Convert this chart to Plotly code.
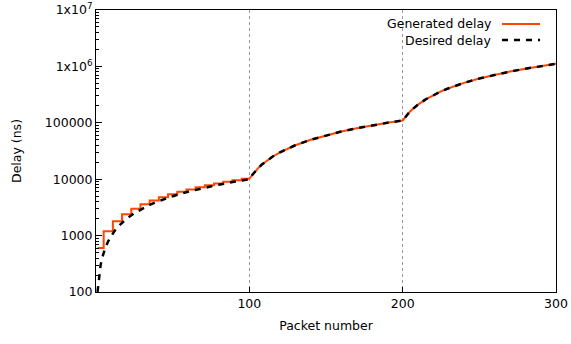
import plotly.graph_objects as go

# ---- data ----
desired_x = [1, 2, 3, 4, 5, 6, 8, 10, 12, 15, 20, 25, 30, 35, 40, 50, 60, 70, 80, 90, 100,
             102, 104, 106, 108, 110, 115, 120, 125, 130, 140, 150, 160, 170, 180, 190, 200,
             202, 204, 206, 208, 210, 215, 220, 225, 230, 240, 250, 260, 270, 280, 290, 300]
desired_y = [100, 200, 300, 400, 500, 600, 800, 1000, 1200, 1500, 2000, 2500, 3000, 3500, 4000,
             5000, 6000, 7000, 8000, 9000, 10000,
             12000, 14000, 16000, 18000, 20000, 25000, 30000, 35000, 40000, 50000, 60000, 70000,
             80000, 90000, 100000, 110000,
             130000, 150000, 170000, 190000, 210000, 260000, 310000, 360000, 410000, 510000,
             610000, 710000, 810000, 910000, 1010000, 1110000]

gen_step_x = [1, 5, 11, 17, 23, 29, 35, 41, 47, 53, 59, 65, 71, 77, 83, 89, 95, 100]
gen_step_y = [600, 1200, 1800, 2400, 3000, 3600, 4200, 4800, 5400, 6000, 6600, 7200, 7800,
              8400, 9000, 9600, 10200, 10200]

gen_smooth_x = [100, 102, 104, 106, 108, 110, 115, 120, 125, 130, 140, 150, 160, 170, 180, 190, 200,
                202, 204, 206, 208, 210, 215, 220, 225, 230, 240, 250, 260, 270, 280, 290, 300]
gen_smooth_y = [10200, 12000, 14000, 16000, 18000, 20000, 25000, 30000, 35000, 40000, 50000, 60000,
                70000, 80000, 90000, 100000, 110000,
                130000, 150000, 170000, 190000, 210000, 260000, 310000, 360000, 410000, 510000,
                610000, 710000, 810000, 910000, 1010000, 1110000]

x_ticks = [100, 200, 300]
y_ticks = [100, 1000, 10000, 100000, 1000000, 10000000]
y_tick_text = ["100", "1000", "10000", "100000", "1x10<sup>6</sup>", "1x10<sup>7</sup>"]

ORANGE = "#ff4500"
FONT = "DejaVu Sans"
FS = 12.5

W, H = 571, 344
L, R, T, B = 96, 15, 10, 52
PW, PH = W - L - R, H - T - B

fig = go.Figure()
fig.add_trace(go.Scatter(x=gen_step_x, y=gen_step_y, mode="lines", line_shape="hv",
                         line=dict(color=ORANGE, width=2), name="Generated delay",
                         legendgroup="g", showlegend=False))
fig.add_trace(go.Scatter(x=gen_smooth_x, y=gen_smooth_y, mode="lines",
                         line=dict(color=ORANGE, width=2), name="Generated delay",
                         legendgroup="g", showlegend=False))
fig.add_trace(go.Scatter(x=desired_x, y=desired_y, mode="lines",
                         line=dict(color="black", width=2.5, dash="6px,6px"),
                         name="Desired delay", showlegend=False))

minor_vals = [m * 10 ** e for e in range(2, 7) for m in range(2, 10)]

fig.update_xaxes(range=[0, 300], tickvals=x_ticks, ticks="inside", ticklen=5,
                 tickcolor="black", showline=True, linecolor="black", linewidth=1,
                 mirror=True, showgrid=True, gridcolor="#999999", griddash="dot",
                 gridwidth=1, zeroline=False, automargin=False, ticklabeloverflow="allow",
                 title=dict(text="Packet number", standoff=11, font=dict(family=FONT, size=FS)),
                 tickfont=dict(family=FONT, size=FS, color="black"))
fig.update_yaxes(type="log", range=[2, 7], tickvals=y_ticks, ticktext=y_tick_text,
                 ticks="inside", ticklen=6, tickcolor="black", showline=True,
                 linecolor="black", linewidth=1, mirror=True, showgrid=False,
                 zeroline=False, automargin=False, ticklabeloverflow="allow",
                 minor=dict(tickvals=minor_vals, ticks="inside", ticklen=3,
                            tickcolor="black", showgrid=False),
                 title=dict(text="Delay (ns)", standoff=20, font=dict(family=FONT, size=FS)),
                 tickfont=dict(family=FONT, size=FS, color="black"))

def px(xp):
    return (xp - L) / PW

def py(yp):
    return 1 - (yp - T) / PH

# legend drawn gnuplot-style (text left of the sample line)
legend_items = [("Generated delay", dict(color=ORANGE, width=2)),
                ("Desired delay", dict(color="black", width=2.5, dash="6px,6px"))]
for i, (label, ln) in enumerate(legend_items):
    yy = 24 + i * 16
    fig.add_annotation(xref="paper", yref="paper", x=px(494), y=py(yy),
                       text=label, showarrow=False, xanchor="right", yanchor="middle",
                       font=dict(family=FONT, size=FS, color="black"))
    fig.add_shape(type="line", xref="paper", yref="paper",
                  x0=px(502), x1=px(540), y0=py(yy), y1=py(yy), line=ln)

fig.update_layout(width=W, height=H, margin=dict(l=L, r=R, t=T, b=B),
                  plot_bgcolor="white", paper_bgcolor="white",
                  font=dict(family=FONT, size=FS, color="black"), showlegend=False)

# remove the default 8px page margin so the figure sits at the window origin
fig.write_html("out.html", config={"displayModeBar": False},
               post_script="document.body.style.margin='0';")
